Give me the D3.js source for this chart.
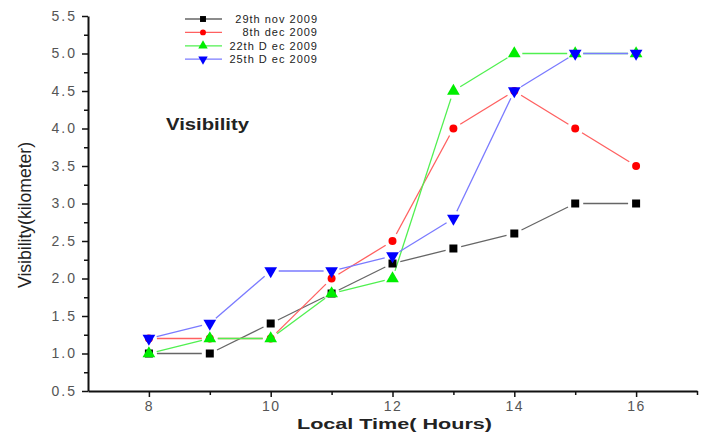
<!DOCTYPE html>
<html>
<head>
<meta charset="utf-8">
<script src="https://cdn.jsdelivr.net/npm/d3@7"></script>
<style>
  body { margin: 0; background: #fff; }
  svg { font-family: Arial, "Liberation Sans", sans-serif; }
</style>
</head>
<body>
<svg width="709" height="432"></svg>
<script>
// hours of the day
const hours = [8, 9, 10, 11, 12, 13, 14, 15, 16];

// visibility in km, one list per date
const nov29 = [1.0, 1.0, 1.4, 1.8, 2.2, 2.4, 2.6, 3.0, 3.0];
const dec08 = [1.2, 1.2, 1.2, 2.0, 2.5, 4.0, 4.5, 4.0, 3.5];
const dec22 = [1.0, 1.2, 1.2, 1.8, 2.0, 4.5, 5.0, 5.0, 5.0];
const dec25 = [1.2, 1.4, 2.1, 2.1, 2.3, 2.8, 4.5, 5.0, 5.0];

const seriesNames = ['29th nov 2009', '8th dec 2009', '22th D ec 2009', '25th D ec 2009'];
const xTicks = [8, 10, 12, 14, 16];
const yTicks = [0.5, 1.0, 1.5, 2.0, 2.5, 3.0, 3.5, 4.0, 4.5, 5.0, 5.5];

const series = [
    { name: seriesNames[0], values: nov29, marker: d3.symbolSquare, size: 64, fill: '#000', line: '#666' },
    { name: seriesNames[1], values: dec08, marker: d3.symbolCircle, size: 50, fill: '#ff0000', line: '#ff6060' },
    { name: seriesNames[2], values: dec22, marker: d3.symbolTriangle, size: 70, fill: '#00ee00', line: '#50f050' },
    { name: seriesNames[3], values: dec25, marker: 'down', size: 70, fill: '#0000ff', line: '#7a7aff' }
];

const svg = d3.select('svg');

const x = d3.scaleLinear().domain([7, 17]).range([88, 697]);
const y = d3.scaleLinear().domain([0.5, 5.5]).range([391, 16]);

function symbolPath(s) {
    if (s.marker === 'down') {
        // upside-down triangle, same size as d3.symbolTriangle
        return d3.symbol().type(d3.symbolTriangle).size(s.size)();
    }
    return d3.symbol().type(s.marker).size(s.size)();
}
const rot = s => (s.marker === 'down' ? ' rotate(180)' : '');

// axes
const xAxis = svg.append('g')
    .attr('transform', `translate(0,${y(0.5)})`)
    .call(d3.axisBottom(x).tickValues(xTicks).tickFormat(d3.format('d')).tickSize(6).tickSizeOuter(0));
svg.append('g')
    .attr('transform', `translate(0,${y(0.5)})`)
    .call(d3.axisBottom(x).tickValues([9, 11, 13, 15, 17]).tickFormat('').tickSize(4).tickSizeOuter(0))
    .select('.domain').remove();

const yAxis = svg.append('g')
    .attr('transform', `translate(${x(7)},0)`)
    .call(d3.axisLeft(y).tickValues(yTicks).tickFormat(d3.format('.1f')).tickSize(6).tickSizeOuter(0));
svg.append('g')
    .attr('transform', `translate(${x(7)},0)`)
    .call(d3.axisLeft(y).tickValues(d3.range(0.75, 5.5, 0.5)).tickFormat('').tickSize(4).tickSizeOuter(0))
    .select('.domain').remove();

svg.selectAll('.domain').attr('stroke', '#111').attr('stroke-width', 2);
svg.selectAll('.tick line').attr('stroke', '#111').attr('stroke-width', 1.5);
xAxis.selectAll('.tick text')
    .attr('font-size', 14).attr('fill', '#555').attr('letter-spacing', 1.5)
    .attr('y', 0).attr('dy', 19.5);
yAxis.selectAll('.tick text')
    .attr('font-size', 14).attr('fill', '#555').attr('letter-spacing', 2)
    .attr('x', -11);

// lines, broken a little around each marker
const gap = 8;
series.forEach(s => {
    const pts = hours.map((h, i) => [x(h), y(s.values[i])]);
    const segs = d3.pairs(pts).map(([a, b]) => {
        const dx = b[0] - a[0], dy = b[1] - a[1];
        const len = Math.hypot(dx, dy);
        const ux = dx / len, uy = dy / len;
        return [a[0] + ux * gap, a[1] + uy * gap, b[0] - ux * gap, b[1] - uy * gap];
    });
    svg.append('g').selectAll('line')
        .data(segs)
        .enter()
        .append('line')
        .attr('x1', d => d[0]).attr('y1', d => d[1])
        .attr('x2', d => d[2]).attr('y2', d => d[3])
        .attr('stroke', s.line)
        .attr('stroke-width', 1.3);
});

series.forEach(s => {
    svg.append('g').selectAll('path')
        .data(hours.map((h, i) => [h, s.values[i]]))
        .enter()
        .append('path')
        .attr('d', symbolPath(s))
        .attr('transform', d => `translate(${x(d[0])},${y(d[1])})` + rot(s))
        .attr('fill', s.fill);
});

// legend
const legend = svg.append('g');
series.forEach((s, i) => {
    const ly = 19 + i * 13.4;
    legend.append('line')
        .attr('x1', 185).attr('x2', 222).attr('y1', ly).attr('y2', ly)
        .attr('stroke', s.line).attr('stroke-width', 1.3);
    legend.append('path')
        .attr('d', symbolPath({ ...s, size: s.size * 0.55 }))
        .attr('transform', `translate(203,${ly})` + rot(s))
        .attr('fill', s.fill);
    legend.append('text')
        .attr('x', 318).attr('y', ly + 4)
        .attr('text-anchor', 'end')
        .attr('font-size', 11)
        .attr('letter-spacing', 1)
        .attr('fill', '#222')
        .text(s.name);
});

// labels
svg.append('text')
    .attr('x', 166).attr('y', 130)
    .attr('font-size', 16).attr('font-weight', 'bold').attr('fill', '#222')
    .attr('textLength', 83).attr('lengthAdjust', 'spacingAndGlyphs')
    .text('Visibility');

svg.append('text')
    .attr('transform', `translate(31,215) rotate(-90)`)
    .attr('text-anchor', 'middle')
    .attr('font-size', 18).attr('fill', '#222')
    .attr('textLength', 146).attr('lengthAdjust', 'spacingAndGlyphs')
    .text('Visibility(kilometer)');

svg.append('text')
    .attr('x', 297).attr('y', 428.5)
    .attr('font-size', 15).attr('font-weight', 'bold').attr('fill', '#222')
    .attr('textLength', 195).attr('lengthAdjust', 'spacingAndGlyphs')
    .text('Local Time( Hours)');
</script>
</body>
</html>
